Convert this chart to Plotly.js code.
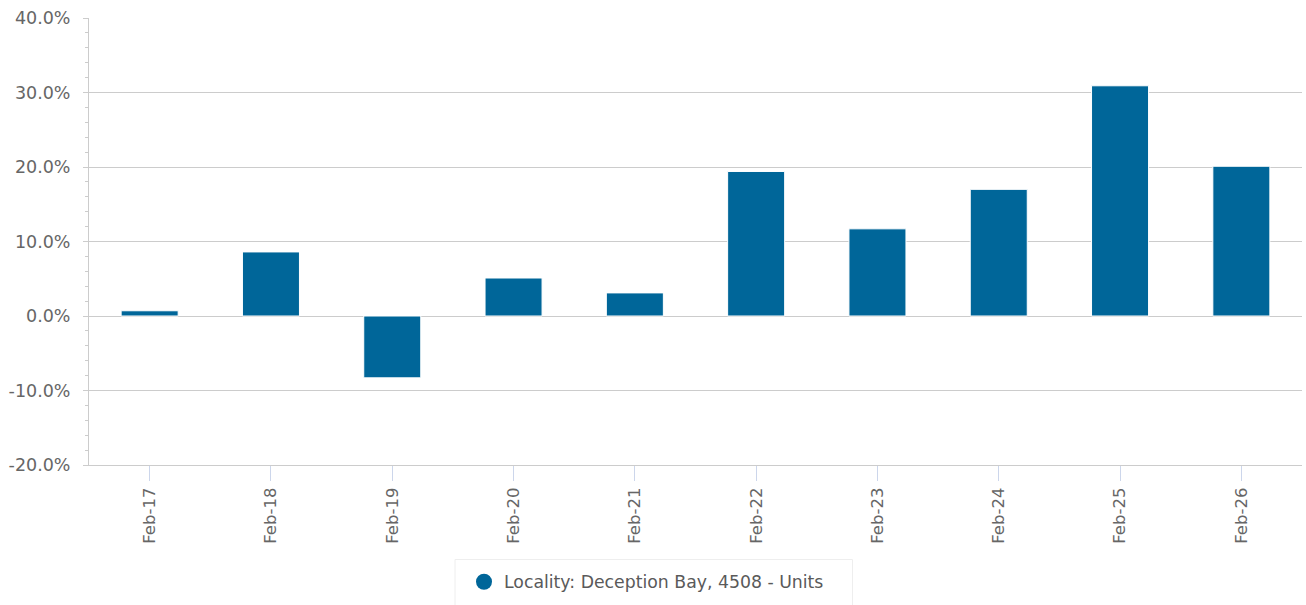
<!DOCTYPE html>
<html>
<head>
<meta charset="utf-8">
<script src="https://cdn.plot.ly/plotly-3.0.1.min.js"></script>
<style>html,body{margin:0;padding:0;background:#fff;}#chart{width:1306px;height:605px;}</style>
</head>
<body>
<div id="chart"></div>
<script>
const categories = ["Feb-17","Feb-18","Feb-19","Feb-20","Feb-21","Feb-22","Feb-23","Feb-24","Feb-25","Feb-26"];
const values = [0.007, 0.086, -0.083, 0.051, 0.031, 0.194, 0.117, 0.170, 0.309, 0.201];
const yTickVals = [-0.2, -0.1, 0, 0.1, 0.2, 0.3, 0.4];
const yTickText = ["-20.0%", "-10.0%", "0.0%", "10.0%", "20.0%", "30.0%", "40.0%"];
const seriesName = "Locality: Deception Bay, 4508 - Units";
const barColor = '#006699';

const bars = {
  type: 'bar',
  x: categories,
  y: values,
  name: seriesName,
  marker: {color: barColor, line: {color: '#ffffff', width: 1}},
  showlegend: false,
  hovertemplate: '%{x}: %{y:.1%}<extra></extra>'
};
// legend-only entry (circle symbol as in the reference legend)
const legendEntry = {
  type: 'scatter', mode: 'markers',
  x: [null], y: [null],
  name: seriesName,
  marker: {color: barColor, size: 16, symbol: 'circle'},
  showlegend: true, hoverinfo: 'skip'
};

const L = 89, R = 4, T = 18, B = 140, W = 1306, H = 605;
const pw = W - L - R, ph = H - T - B;
const px2x = p => (p - L) / pw;
const py2y = p => (H - B - p) / ph;

const layout = {
  width: W, height: H,
  margin: {l: L, r: R, t: T, b: B},
  paper_bgcolor: '#fff', plot_bgcolor: '#fff',
  font: {family: 'DejaVu Sans, sans-serif', color: '#666666', size: 16},
  bargap: 0.53,
  xaxis: {
    type: 'category',
    tickangle: -90,
    ticks: 'outside', ticklen: 15, tickcolor: '#ccd6eb', tickwidth: 1,
    showline: true, linecolor: '#cccccc', linewidth: 1,
    showgrid: false, zeroline: false,
    tickfont: {size: 16.5, color: '#666666'}
  },
  yaxis: {
    range: [-0.2, 0.4],
    tickmode: 'array', tickvals: yTickVals, ticktext: yTickText,
    showgrid: true, gridcolor: '#cccccc', gridwidth: 1,
    zeroline: false,
    showline: true, linecolor: '#cccccc', linewidth: 1,
    ticks: 'outside', ticklen: 5, tickcolor: '#cccccc',
    ticklabelstandoff: 9,
    minor: {dtick: 0.02, ticks: 'outside', ticklen: 3, tickcolor: '#cccccc', showgrid: false},
    tickfont: {size: 17.5, color: '#666666'}
  },
  showlegend: true,
  legend: {
    orientation: 'h',
    x: px2x(464), xanchor: 'left',
    y: py2y(564), yanchor: 'top',
    bgcolor: 'rgba(0,0,0,0)', borderwidth: 0,
    font: {size: 17.3, color: '#5a5a5a'}
  },
  shapes: [{
    type: 'rect', xref: 'paper', yref: 'paper',
    x0: px2x(455), x1: px2x(852.5), y0: py2y(559.5), y1: py2y(615),
    line: {color: '#eeeeee', width: 1}, fillcolor: 'rgba(0,0,0,0)', layer: 'below'
  }]
};
Plotly.newPlot('chart', [bars, legendEntry], layout, {displayModeBar: false});
</script>
</body>
</html>
